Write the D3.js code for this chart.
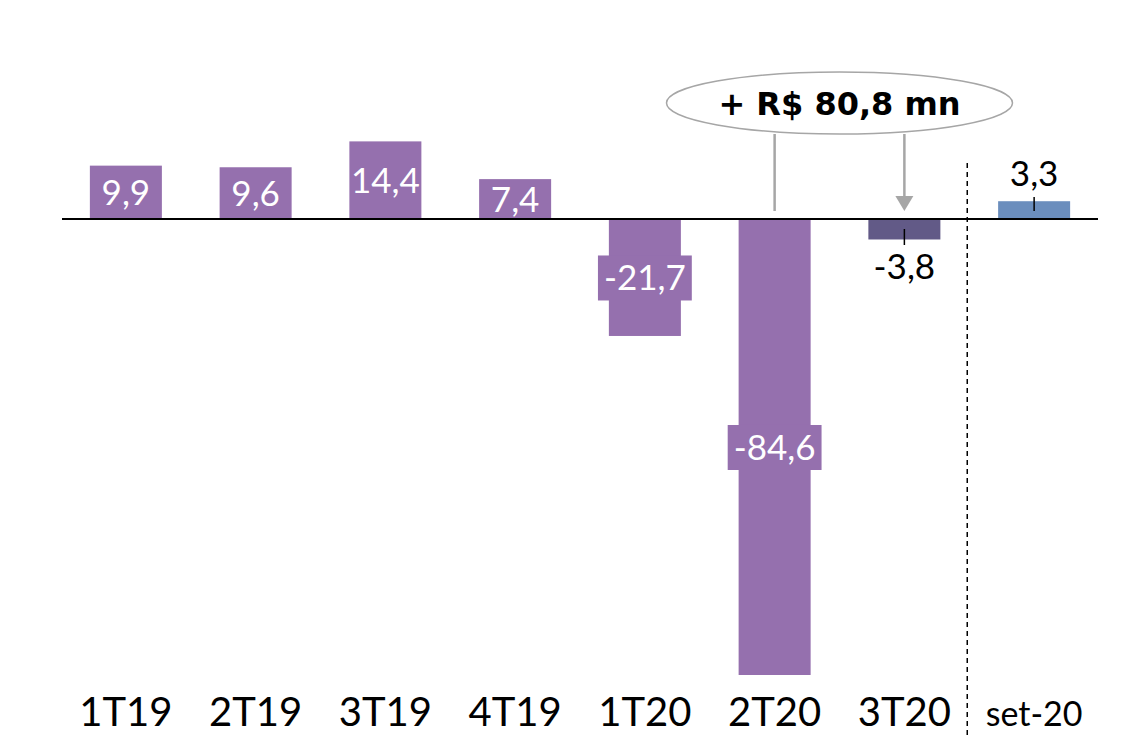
<!DOCTYPE html>
<html>
<head>
<meta charset="utf-8">
<script src="https://cdn.jsdelivr.net/npm/d3@7"></script>
<style>
  html, body { margin: 0; padding: 0; background: #fff; }
  svg { display: block; }
  .cat { font-family: Lato, "DejaVu Sans", sans-serif; font-size: 40px; fill: #000; }
  .val { font-family: Lato, "DejaVu Sans", sans-serif; font-size: 35px; }
  .note { font-family: "DejaVu Sans", Verdana, sans-serif; font-weight: bold; font-size: 32px; fill: #000; }
</style>
</head>
<body>
<div id="chart"></div>
<script>
(function () {
  var categories = ['1T19', '2T19', '3T19', '4T19', '1T20', '2T20', '3T20', 'set-20'];
  var values = [9.9, 9.6, 14.4, 7.4, -21.7, -84.6, -3.8, 3.3];
  var valueLabels = ['9,9', '9,6', '14,4', '7,4', '-21,7', '-84,6', '-3,8', '3,3'];
  var noteText = '+ R$ 80,8 mn';

  var PURPLE = '#9570ae';
  var DARK = '#625a87';
  var BLUE = '#6b8ebd';

  var width = 1133, height = 735;

  var svg = d3.select('#chart').append('svg')
    .attr('width', width)
    .attr('height', height);

  var x = d3.scaleBand()
    .domain(categories)
    .range([61, 1099])
    .paddingInner(0.445)
    .paddingOuter(0.2225);

  var y = d3.scaleLinear()
    .domain([-90, 20])
    .range([219 + 90 * 5.39, 219 - 20 * 5.39]);

  function barColor(d, i) {
    if (categories[i] === '3T20') return DARK;
    if (categories[i] === 'set-20') return BLUE;
    return PURPLE;
  }
  function cx(i) { return x(categories[i]) + x.bandwidth() / 2; }

  // bars
  svg.append('g').selectAll('rect')
    .data(values)
    .join('rect')
    .attr('x', function (d, i) { return x(categories[i]); })
    .attr('width', x.bandwidth())
    .attr('y', function (d) { return y(Math.max(0, d)); })
    .attr('height', function (d) { return Math.abs(y(d) - y(0)); })
    .attr('fill', barColor);

  // zero line
  svg.append('line')
    .attr('x1', 62).attr('x2', 1098)
    .attr('y1', y(0)).attr('y2', y(0))
    .attr('stroke', '#000').attr('stroke-width', 2);

  // labels inside bars; the wide negative labels get a box in the bar colour
  var inside = [0, 1, 2, 3, 4, 5];
  var lg = svg.append('g');
  inside.forEach(function (i) {
    var mid = (y(0) + y(values[i])) / 2;
    var t = lg.append('text')
      .attr('class', 'val')
      .attr('x', cx(i))
      .attr('y', mid)
      .attr('dy', '0.36em')
      .attr('text-anchor', 'middle')
      .attr('fill', '#fff')
      .text(valueLabels[i]);
    if (values[i] < 0) {
      var bw = t.node().getBBox().width + 12;
      lg.insert('rect', 'text')
        .attr('x', cx(i) - bw / 2)
        .attr('width', bw)
        .attr('y', mid - 22)
        .attr('height', 45)
        .attr('fill', barColor(values[i], i));
    }
  });

  // small-bar labels with leader ticks
  [6, 7].forEach(function (i) {
    var v = values[i];
    var edge = y(0) + (v < 0 ? 10 : -22);
    svg.append('line')
      .attr('x1', cx(i)).attr('x2', cx(i))
      .attr('y1', edge).attr('y2', edge + (v < 0 ? 16 : 14))
      .attr('stroke', '#000').attr('stroke-width', 1.5);
    svg.append('text')
      .attr('class', 'val')
      .attr('x', cx(i))
      .attr('y', v < 0 ? 279 : 186)
      .attr('text-anchor', 'middle')
      .attr('fill', '#000')
      .text(valueLabels[i]);
  });

  // dashed separator
  var sepX = x('set-20') - (x.step() - x.bandwidth()) / 2 - 2;
  svg.append('line')
    .attr('x1', sepX).attr('x2', sepX)
    .attr('y1', 163).attr('y2', height)
    .attr('stroke', '#000').attr('stroke-width', 1.5)
    .attr('stroke-dasharray', '5,4');

  // category labels
  svg.append('g').selectAll('text')
    .data(categories)
    .join('text')
    .attr('class', 'cat')
    .attr('x', function (d, i) { return cx(i); })
    .attr('y', 726)
    .attr('text-anchor', 'middle')
    .style('font-size', function (d) { return d === 'set-20' ? '34px' : null; })
    .text(function (d) { return d; });

  // callout
  var i2 = categories.indexOf('2T20'), i3 = categories.indexOf('3T20');
  var ex = (cx(i2) + cx(i3)) / 2, ey = 103;
  svg.append('line')
    .attr('x1', cx(i2)).attr('x2', cx(i2))
    .attr('y1', ey + 31).attr('y2', 211)
    .attr('stroke', '#a6a6a6').attr('stroke-width', 2.5);
  svg.append('line')
    .attr('x1', cx(i3)).attr('x2', cx(i3))
    .attr('y1', ey + 31).attr('y2', 197)
    .attr('stroke', '#a6a6a6').attr('stroke-width', 2.5);
  svg.append('path')
    .attr('d', 'M' + (cx(i3) - 9) + ',196 L' + (cx(i3) + 9) + ',196 L' + cx(i3) + ',211 Z')
    .attr('fill', '#a6a6a6');
  svg.append('ellipse')
    .attr('cx', ex).attr('cy', ey)
    .attr('rx', 173).attr('ry', 31)
    .attr('fill', '#fff')
    .attr('stroke', '#a6a6a6').attr('stroke-width', 1.5);
  svg.append('text')
    .attr('class', 'note')
    .attr('x', ex).attr('y', ey)
    .attr('dy', '0.36em')
    .attr('text-anchor', 'middle')
    .text(noteText);
})();
</script>
</body>
</html>
